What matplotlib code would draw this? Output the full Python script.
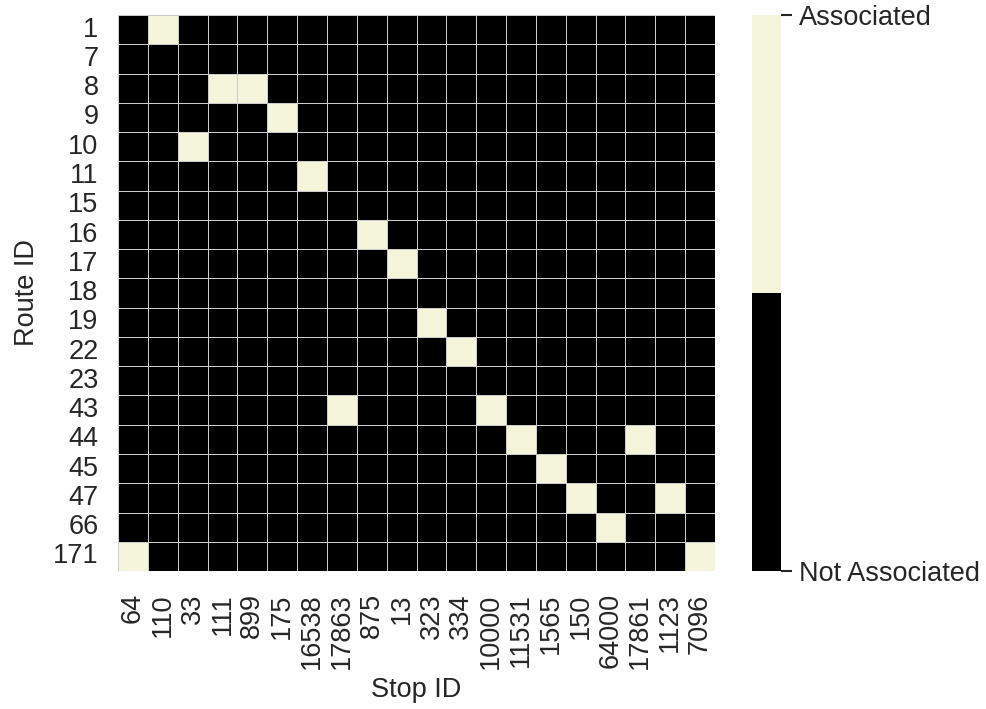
import matplotlib
matplotlib.use('Agg')
import matplotlib.pyplot as plt
from matplotlib.colors import ListedColormap
import numpy as np
import pandas as pd
import seaborn as sns

### DATA ###
route_ids = [1, 7, 8, 9, 10, 11, 15, 16, 17, 18, 19, 22, 23, 43, 44, 45, 47, 66, 171]
stop_ids = [64, 110, 33, 111, 899, 175, 16538, 17863, 875, 13, 323, 334,
            10000, 11531, 1565, 150, 64000, 17861, 1123, 7096]

# (route, stop) pairs that are associated
associated = [(1, 110), (8, 111), (8, 899), (9, 175), (10, 33), (11, 16538),
              (16, 875), (17, 13), (19, 323), (22, 334), (43, 17863), (43, 10000),
              (44, 11531), (44, 17861), (45, 1565), (47, 150), (47, 1123),
              (66, 64000), (171, 64), (171, 7096)]

cbar_labels = ['Not Associated', 'Associated']

### BUILD MATRIX ###
matrix = pd.DataFrame(0, index=route_ids, columns=stop_ids)
for r, s in associated:
    matrix.loc[r, s] = 1

### PLOT ###
sns.set_theme(style='darkgrid')
plt.rcParams['font.family'] = ['Liberation Sans', 'DejaVu Sans']
plt.rcParams['text.color'] = '#262626'

fig = plt.figure(figsize=(9.87, 7.09), dpi=100)
ax = fig.add_axes([0.1196, 0.1946, 0.6048, 0.7842])
cax = fig.add_axes([0.762, 0.1946, 0.0294, 0.7842])

cmap = ListedColormap(['black', '#F5F5DC'])
sns.heatmap(matrix, ax=ax, cbar_ax=cax, cmap=cmap, vmin=0, vmax=1,
            linewidths=0.6, linecolor='#cccccc')

ax.set_xlabel('Stop ID', fontsize=19.5, color='#262626', labelpad=6)
ax.set_ylabel('Route ID', fontsize=19.5, color='#262626', labelpad=9)
ax.set_xticks(np.arange(len(stop_ids)) + 0.5)
ax.set_xticklabels(stop_ids, rotation=90, fontsize=19.5, color='#262626')
ax.set_yticks(np.arange(len(route_ids)) + 0.5)
ax.set_yticklabels(route_ids, rotation=0, fontsize=19.5, color='#262626')
ax.tick_params(axis='x', length=0, pad=16)
ax.tick_params(axis='y', length=0, pad=14)

cax.set_yticks([0, 1])
cax.set_yticklabels(cbar_labels, fontsize=19.5, color='#262626')
cax.tick_params(axis='y', length=8, width=1.5, color='#262626', pad=5)

fig.savefig('out.png', dpi=100)
